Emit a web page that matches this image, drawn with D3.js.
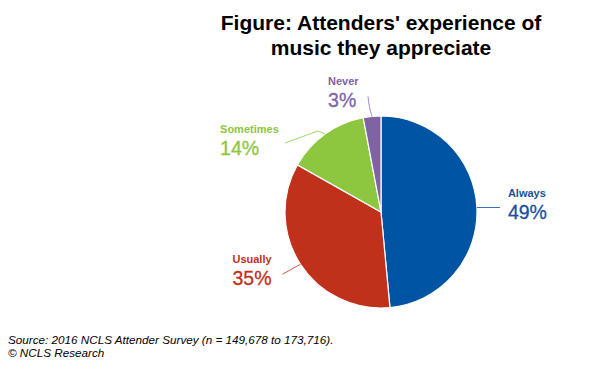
<!DOCTYPE html>
<html><head><meta charset="utf-8">
<script src="https://cdn.jsdelivr.net/npm/d3@7"></script>
<style>body{margin:0;background:#fff}svg{display:block}</style>
</head><body>
<svg id="c" width="613" height="376"></svg>
<script>
const categories = ["Always", "Usually", "Sometimes", "Never"];
const values = [49, 35, 14, 3];
const labels = ["49%", "35%", "14%", "3%"];
const colors = ["#0054A4", "#C0311C", "#8DC63F", "#7E63A5"];
const textColors = ["#1B4F9C", "#C0311C", "#8DC63F", "#7E63A5"];
const titleLines = ["Figure: Attenders' experience of", "music they appreciate"];
const sourceLines = ["Source: 2016 NCLS Attender Survey (n = 149,678 to 173,716).", "\u00A9 NCLS Research"];

const svg = d3.select("#c");
const cx = 381, cy = 212, R = 96;
const g = svg.append("g").attr("transform", `translate(${cx},${cy})`);
const data = categories.map((c, i) => ({cat: c, value: values[i], label: labels[i], i}));
const pie = d3.pie().sort(null).value(d => d.value);
const arcs = pie(data);
const arc = d3.arc().innerRadius(0).outerRadius(R);
g.selectAll("path.slice").data(arcs).join("path")
  .attr("class", "slice")
  .attr("d", arc)
  .attr("fill", d => colors[d.data.i])
  .attr("stroke", "#fff").attr("stroke-width", 1.2);

// label layout (relative offsets of leader-line end and text)
const layout = {
  Always:    {bend: null, end: [23, 0], text: [31, -11]},
  Usually:   {bend: null, end: [-18, 10], text: [-68, -1]},
  Sometimes: {bend: [-7, -3], end: [-40, 9], text: [-105, -1]},
  Never:     {bend: [-3, -10], end: [-4, -20], text: [-44, -31]}
};
const mid = d => (d.startAngle + d.endAngle) / 2;
const lineColors = ["#3A6DB5", "#D0584A", "#A8D46F", "#9A84BD"];
arcs.forEach(d => {
  const a = mid(d);
  const p0 = [R * Math.sin(a), -R * Math.cos(a)];
  const L = layout[d.data.cat];
  const pts = [p0];
  if (L.bend) pts.push([p0[0] + L.bend[0], p0[1] + L.bend[1]]);
  pts.push([p0[0] + L.end[0], p0[1] + L.end[1]]);
  const line = d.data.cat === "Never" ? d3.line().curve(d3.curveBasis) : d3.line();
  g.append("path").attr("d", line(pts)).attr("fill", "none")
    .attr("stroke", lineColors[d.data.i]).attr("stroke-width", 1);
  const tx = p0[0] + L.text[0], ty = p0[1] + L.text[1];
  g.append("text").attr("x", tx).attr("y", ty)
    .attr("font-family", "Liberation Sans, Arial, sans-serif")
    .attr("font-size", 11).attr("font-weight", "bold")
    .attr("fill", textColors[d.data.i]).text(d.data.cat);
  g.append("text").attr("x", tx).attr("y", ty + 22)
    .attr("font-family", "Liberation Sans, Arial, sans-serif")
    .attr("font-size", 19.5).attr("font-weight", "normal")
    .attr("stroke", textColors[d.data.i]).attr("stroke-width", 0.3)
    .attr("fill", textColors[d.data.i]).text(d.data.label);
});

svg.selectAll("text.title").data(titleLines).join("text")
  .attr("class", "title")
  .attr("x", 381).attr("y", (d, i) => 30 + i * 25)
  .attr("text-anchor", "middle")
  .attr("font-family", "Liberation Sans, Arial, sans-serif")
  .attr("font-size", 21).attr("font-weight", "bold").attr("fill", "#000")
  .text(d => d);

svg.selectAll("text.src").data(sourceLines).join("text")
  .attr("class", "src")
  .attr("x", 8).attr("y", (d, i) => 344 + i * 13)
  .attr("font-family", "Liberation Sans, Arial, sans-serif")
  .attr("font-size", 11.7).attr("font-style", "italic").attr("fill", "#000")
  .text(d => d);
</script>
</body></html>
